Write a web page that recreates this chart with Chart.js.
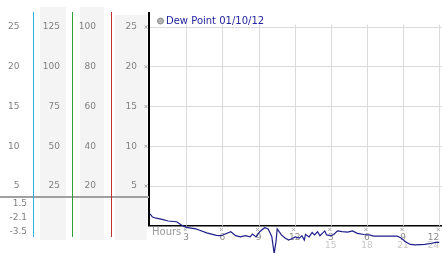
<!DOCTYPE html>
<html lang="en">
<head>
  <meta charset="UTF-8" />
  <title>Dew Point 01/10/12</title>
  <script src="https://cdn.jsdelivr.net/npm/chart.js"></script>
  <style>
    body { margin: 0; background: #fff; }
    canvas { display: block; }
  </style>
</head>
<body>
  <canvas id="dewChart" width="442" height="253"></canvas>

  <script>
    // Dew point readings (hours since midnight, degrees)
    const hours = [0, 0.2, 0.5, 1.0, 1.5, 2.2, 2.6, 3.0, 3.8, 4.0, 4.7, 5.5, 5.8, 6.0, 6.7, 7.1, 7.5, 7.9, 8.3, 8.5,
      8.8, 9.1, 9.5, 9.8, 10.1, 10.3, 10.45, 10.55, 10.9, 11.2, 11.5, 11.8, 12.05, 12.4, 12.6, 12.8, 12.9, 13.2,
      13.45, 13.65, 13.9, 14.1, 14.3, 14.5, 14.65, 15.0, 15.25, 15.55, 15.95, 16.4, 16.8, 17.2, 17.75, 18.2,
      18.55, 19.0, 19.4, 20.0, 20.5, 20.8, 21.2, 21.6, 22.0, 22.8, 23.4, 23.7, 24.0];
    const dewPoint = [1.5, 1.1, 0.95, 0.8, 0.6, 0.5, 0.1, -0.2, -0.4, -0.5, -0.9, -1.2, -1.25, -1.2, -0.75, -1.25,
      -1.4, -1.25, -1.4, -1.05, -1.4, -0.75, -0.25, -0.4, -1.35, -3.5, -2.0, -0.4, -1.15, -1.55, -1.8, -1.6, -1.4,
      -1.55, -1.25, -1.8, -1.1, -1.4, -0.85, -1.15, -0.75, -1.25, -0.95, -0.65, -1.15, -1.25, -1.1, -0.65, -0.75,
      -0.8, -0.65, -0.95, -1.1, -1.15, -1.3, -1.3, -1.3, -1.3, -1.3, -1.5, -2.0, -2.35, -2.4, -2.35, -2.2, -2.1, -2.1];

    // axis ticks
    const dewTicks = [5, 10, 15, 20, 25];
    const col2Ticks = [25, 50, 75, 100, 125];
    const col3Ticks = [20, 40, 60, 80, 100];
    const hourTicks = [3, 6, 9, 12, 15, 18, 21, 24];
    const hourLabels = ['3', '6', '9', '12', '3', '6', '9', '12'];
    const hourLabels24 = ['', '', '', '', '15', '18', '21', '24'];
    const summaryLabels = ['1.5', '-2.1', '-3.5']; // max, last, min

    // visible ranges
    const yMin = -1.415, yMax = 26.89;
    const xMin = -0.09, xMax = 24.23;

    const font9 = { family: 'DejaVu Sans', size: 9 };
    const font10 = { family: 'DejaVu Sans', size: 10 };

    // colour of the rule on the right side of each left column
    const columnRules = { yTemp: '#2fb0dc', yHum: '#30a038', yPct: '#c03030' };

    const setTicks = list => scale => { scale.ticks = list.map(v => ({ value: v })); };
    // fixed column width, no extra label padding
    const fitWidth = w => scale => {
      scale.width = w;
      scale.paddingTop = 0;
      scale.paddingBottom = 0;
    };

    // small "x" tick markers
    function marker(ctx, cx, cy) {
      ctx.beginPath();
      ctx.moveTo(cx - 1.5, cy - 1.5); ctx.lineTo(cx + 1.5, cy + 1.5);
      ctx.moveTo(cx + 1.5, cy - 1.5); ctx.lineTo(cx - 1.5, cy + 1.5);
      ctx.stroke();
    }

    const decorations = {
      id: 'decorations',
      afterLayout(chart) {
        // legend sits inside the plot, top left
        chart.legend.left = 156;
        chart.legend.top = 12;
      },
      beforeDraw(chart) {
        const ctx = chart.ctx;
        ctx.save();
        ctx.fillStyle = '#f4f4f4';
        ctx.fillRect(40, 7, 26, 233);
        ctx.fillRect(80, 7, 24, 233);
        ctx.fillRect(115, 15, 32, 225);
        ctx.restore();
      },
      beforeDatasetsDraw(chart) {
        const { ctx, scales } = chart;
        const x = scales.x, y = scales.y;
        ctx.save();
        // vertical grid
        ctx.strokeStyle = '#dadada';
        ctx.lineWidth = 1;
        hourTicks.forEach(h => {
          const px = Math.round(x.getPixelForValue(h)) + 0.5;
          ctx.beginPath();
          ctx.moveTo(px, y.getPixelForValue(25.3));
          ctx.lineTo(px, y.getPixelForValue(0));
          ctx.stroke();
        });
        // main vertical axis line
        ctx.strokeStyle = '#000';
        ctx.lineWidth = 2;
        ctx.beginPath();
        ctx.moveTo(149, 12);
        ctx.lineTo(149, y.getPixelForValue(0));
        ctx.stroke();
        // separator under the left columns
        ctx.strokeStyle = '#a0a0a0';
        ctx.beginPath();
        ctx.moveTo(0, 197);
        ctx.lineTo(149, 197);
        ctx.stroke();
        // coloured column rules
        ctx.lineWidth = 1;
        Object.keys(columnRules).forEach(id => {
          const s = scales[id];
          ctx.strokeStyle = columnRules[id];
          ctx.beginPath();
          ctx.moveTo(Math.round(s.right) + 0.5, 12);
          ctx.lineTo(Math.round(s.right) + 0.5, 237);
          ctx.stroke();
        });
        // tick markers
        ctx.strokeStyle = '#aaa';
        dewTicks.forEach(v => marker(ctx, 146, y.getPixelForValue(v)));
        hourTicks.forEach(h => marker(ctx, x.getPixelForValue(h) - 1, 229.5));
        // texts
        ctx.font = '10px "DejaVu Sans"';
        ctx.fillStyle = '#999';
        ctx.textBaseline = 'middle';
        ctx.textAlign = 'left';
        ctx.fillText('Hours', 152, 232);
        ctx.font = '9px "DejaVu Sans"';
        ctx.fillStyle = '#808080';
        ctx.textAlign = 'right';
        summaryLabels.forEach((t, i) => ctx.fillText(t, 27, 204 + i * 14));
        ctx.restore();
      }
    };

    const ctx = document.getElementById('dewChart').getContext('2d');
    new Chart(ctx, {
      type: 'line',
      data: {
        datasets: [{
          label: 'Dew Point 01/10/12',
          data: hours.map((h, i) => ({ x: h, y: dewPoint[i] })),
          borderColor: '#1e1e8c',
          borderWidth: 1.2,
          pointRadius: 0,
          tension: 0,
          clip: false,
          xAxisID: 'x',
          yAxisID: 'y'
        }]
      },
      options: {
        responsive: false,
        animation: false,
        devicePixelRatio: 1,
        layout: { padding: { top: 12, bottom: 16, left: 0, right: 0 } },
        plugins: {
          tooltip: { enabled: false },
          legend: {
            position: 'chartArea',
            align: 'start',
            labels: {
              usePointStyle: true,
              pointStyle: 'circle',
              boxWidth: 1,
              boxHeight: 4.2,
              padding: 4,
              color: '#24249e',
              font: font10,
              generateLabels(chart) {
                return Chart.defaults.plugins.legend.labels.generateLabels(chart).map(item => {
                  item.fillStyle = '#b4b4b4';
                  item.strokeStyle = '#8a8a8a';
                  item.lineWidth = 1;
                  return item;
                });
              }
            }
          }
        },
        scales: {
          x: {
            type: 'linear',
            position: { y: 0 },
            min: xMin, max: xMax,
            afterBuildTicks: scale => { scale.ticks = [0, ...hourTicks].map(v => ({ value: v })); },
            afterFit: scale => { scale.paddingLeft = 0; scale.paddingRight = 0; },
            grid: { display: false, drawTicks: false },
            border: { color: '#000', width: 1.5 },
            ticks: {
              align: 'inner', maxRotation: 0, autoSkip: false, padding: 7,
              color: '#8c8c8c', font: font9,
              callback: v => hourLabels[hourTicks.indexOf(v)] ?? ''
            }
          },
          x2: {
            type: 'linear',
            position: { y: 0 },
            min: xMin, max: xMax,
            afterBuildTicks: scale => { scale.ticks = [0, ...hourTicks].map(v => ({ value: v })); },
            afterFit: scale => { scale.paddingLeft = 0; scale.paddingRight = 0; },
            grid: { display: false, drawTicks: false },
            border: { display: false },
            ticks: {
              align: 'inner', maxRotation: 0, autoSkip: false, padding: 15,
              color: '#c8c8c8', font: font9,
              callback: v => hourLabels24[hourTicks.indexOf(v)] ?? ''
            }
          },
          y: {
            position: 'left', weight: 0,
            min: yMin, max: yMax,
            afterBuildTicks: setTicks(dewTicks),
            afterFit: fitWidth(38),
            grid: { color: '#dadada', drawTicks: false },
            border: { display: false },
            ticks: { padding: 12, color: '#808080', font: font9 }
          },
          yPct: {
            position: 'left', weight: 1,
            min: yMin * 4, max: yMax * 4,
            afterBuildTicks: setTicks(col3Ticks),
            afterFit: fitWidth(39),
            grid: { display: false, drawTicks: false },
            border: { display: false },
            ticks: { padding: 15, color: '#808080', font: font9 }
          },
          yHum: {
            position: 'left', weight: 2,
            min: yMin * 5, max: yMax * 5,
            afterBuildTicks: setTicks(col2Ticks),
            afterFit: fitWidth(39),
            grid: { display: false, drawTicks: false },
            border: { display: false },
            ticks: { padding: 12, color: '#808080', font: font9 }
          },
          yTemp: {
            position: 'left', weight: 3,
            min: yMin, max: yMax,
            afterBuildTicks: setTicks(dewTicks),
            afterFit: fitWidth(33),
            grid: { display: false, drawTicks: false },
            border: { display: false },
            ticks: { padding: 13.5, color: '#808080', font: font9 }
          }
        }
      },
      plugins: [decorations]
    });
  </script>
</body>
</html>
